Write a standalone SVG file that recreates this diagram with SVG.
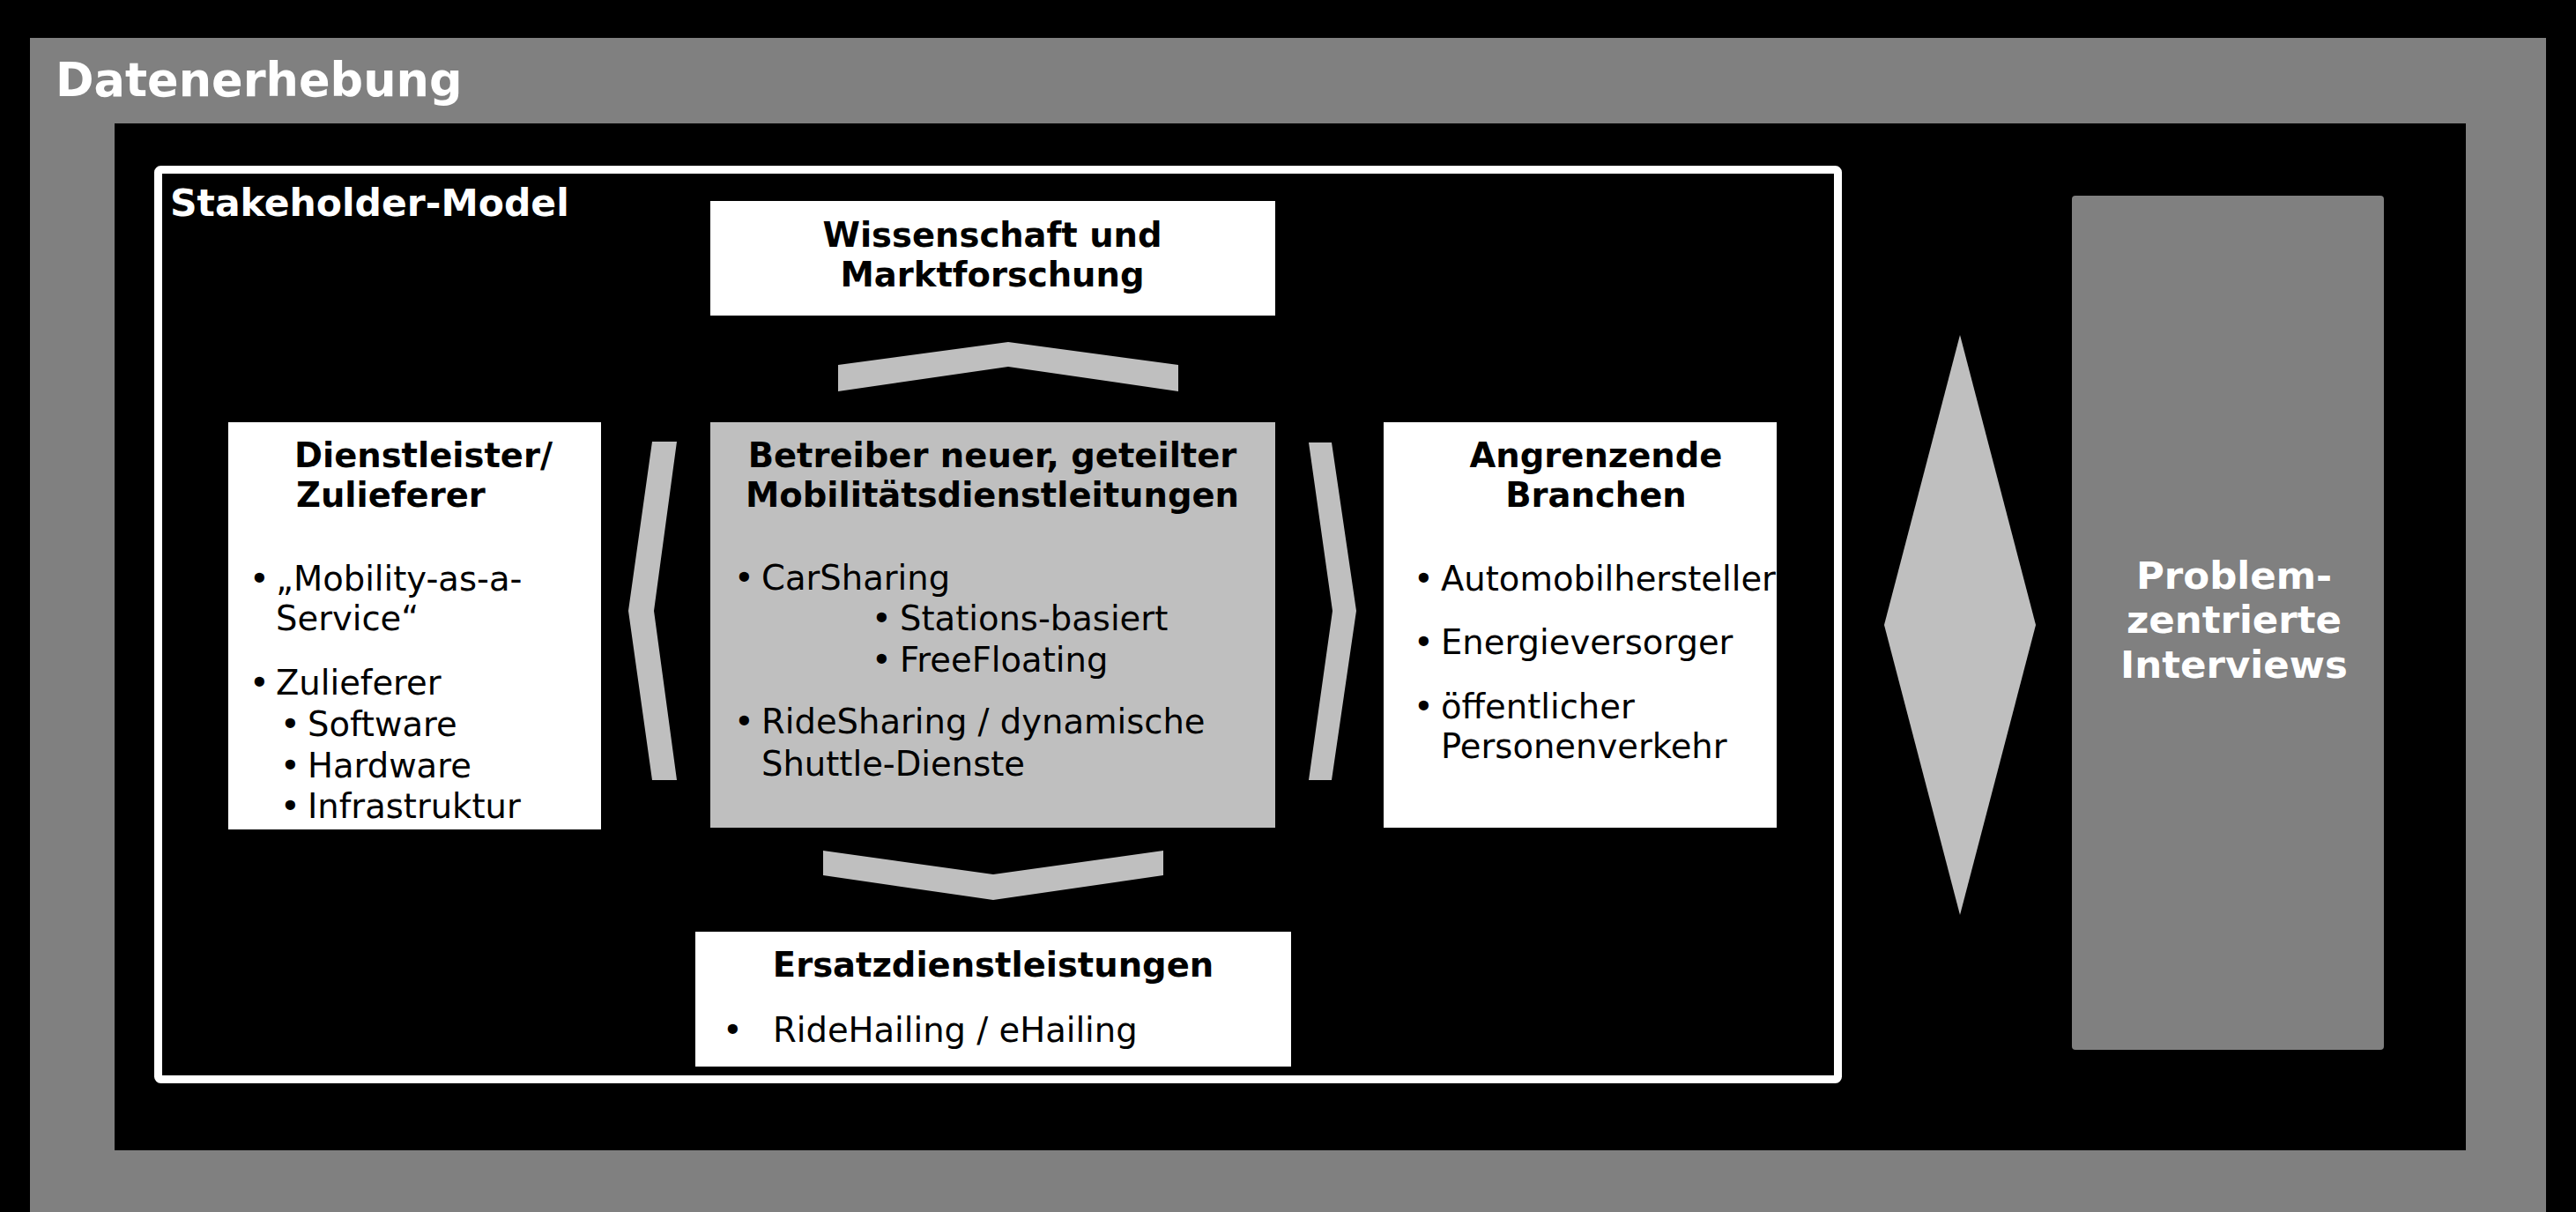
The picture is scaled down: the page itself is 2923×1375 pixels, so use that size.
<svg xmlns="http://www.w3.org/2000/svg" width="2923" height="1375" viewBox="0 0 2923 1375">
<style>
text{font-family:"DejaVu Sans","Verdana",sans-serif;}
.b{font-weight:bold;font-size:38.5px;fill:#000;}
.r{font-size:38.5px;fill:#000;}
.w{font-weight:bold;fill:#fff;}
.c{text-anchor:middle;}
.lg{fill:#bfbfbf;}
.wb{fill:#fff;}
</style>
<rect x="0" y="0" width="2923" height="1375" fill="#000"/>
<g id="datenerhebung">
<rect x="34" y="43" width="2855" height="1340" fill="#808080"/>
<text class="w" x="63" y="109" font-size="52.5">Datenerhebung</text>
<rect x="130" y="140" width="2668" height="1165" fill="#000"/>
</g>
<g id="stakeholder-model">
<rect x="179.5" y="192.5" width="1906" height="1032" rx="3" fill="#000" stroke="#fff" stroke-width="9"/>
<text class="w" x="193" y="245" font-size="42.5">Stakeholder-Model</text>
</g>
<g id="wissenschaft">
<rect class="wb" x="806" y="228" width="641" height="130"/>
<text class="b c" x="1126" y="280">Wissenschaft und</text>
<text class="b c" x="1126" y="325">Marktforschung</text>
</g>
<g id="betreiber">
<rect class="lg" x="806" y="479" width="641" height="460"/>
<text class="b c" x="1126" y="530">Betreiber neuer, geteilter</text>
<text class="b c" x="1126" y="575">Mobilitätsdienstleitungen</text>
<text class="r" x="833" y="669">•</text><text class="r" x="864" y="669">CarSharing</text>
<text class="r" x="989" y="715">•</text><text class="r" x="1021" y="715">Stations-basiert</text>
<text class="r" x="989" y="762">•</text><text class="r" x="1021" y="762">FreeFloating</text>
<text class="r" x="833" y="832">•</text><text class="r" x="864" y="832">RideSharing / dynamische</text>
<text class="r" x="864" y="880">Shuttle-Dienste</text>
</g>
<g id="dienstleister">
<rect class="wb" x="259" y="479" width="423" height="462"/>
<text class="b" x="334" y="530">Dienstleister/</text>
<text class="b" x="336" y="575">Zulieferer</text>
<text class="r" x="283" y="670">•</text><text class="r" x="313" y="670">„Mobility-as-a-</text>
<text class="r" x="313" y="715">Service“</text>
<text class="r" x="283" y="788">•</text><text class="r" x="313" y="788">Zulieferer</text>
<text class="r" x="318" y="835">•</text><text class="r" x="349" y="835">Software</text>
<text class="r" x="318" y="882">•</text><text class="r" x="349" y="882">Hardware</text>
<text class="r" x="318" y="928">•</text><text class="r" x="349" y="928">Infrastruktur</text>
</g>
<g id="angrenzende">
<rect class="wb" x="1570" y="479" width="446" height="460"/>
<text class="b c" x="1811" y="530">Angrenzende</text>
<text class="b c" x="1811" y="575">Branchen</text>
<text class="r" x="1604" y="670">•</text><text class="r" x="1635" y="670">Automobilhersteller</text>
<text class="r" x="1604" y="742">•</text><text class="r" x="1635" y="742">Energieversorger</text>
<text class="r" x="1604" y="815">•</text><text class="r" x="1635" y="815">öffentlicher</text>
<text class="r" x="1635" y="860">Personenverkehr</text>
</g>
<g id="ersatz">
<rect class="wb" x="789" y="1057" width="676" height="153"/>
<text class="b c" x="1127" y="1108">Ersatzdienstleistungen</text>
<text class="r" x="820" y="1182">•</text><text class="r" x="877" y="1182">RideHailing / eHailing</text>
</g>
<g id="interviews">
<rect x="2351" y="222" width="354" height="969" rx="4" fill="#808080"/>
<text class="w c" x="2535" y="668" font-size="43.5">Problem-</text>
<text class="w c" x="2535" y="718" font-size="43.5">zentrierte</text>
<text class="w c" x="2535" y="769" font-size="43.5">Interviews</text>
</g>
<g id="connectors">
<polygon class="lg" points="951,414 1144,388 1337,414 1337,444 1144,416 951,444"/>
<polygon class="lg" points="934,965 1127,992 1320,965 1320,993 1127,1021 934,993"/>
<polygon class="lg" points="768,501 740,501 713,693 740,885 768,885 742,693"/>
<polygon class="lg" points="1485,502 1511,502 1539,693 1511,885 1485,885 1512,693"/>
<polygon class="lg" points="2224,380 2310,709 2224,1038 2138,709"/>
</g>
</svg>
